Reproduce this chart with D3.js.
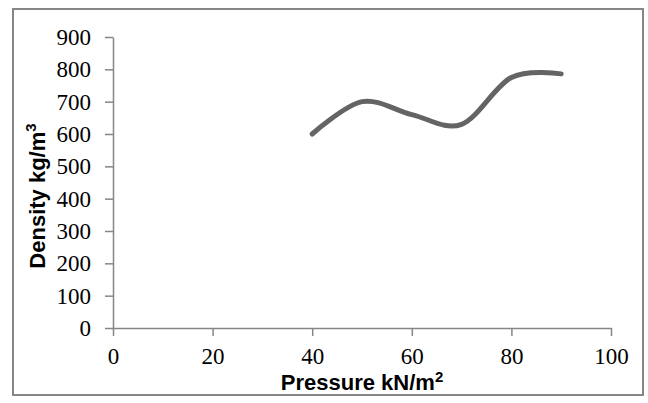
<!DOCTYPE html>
<meta charset="utf-8">
<style>
  body { margin: 0; background: #fff; }
  .tick text { font-family: "Liberation Serif", serif; font-size: 23px; fill: #000; }
  .tick line, .domain { stroke: #868686; stroke-width: 1.5px; }
  .title { font-family: "Liberation Sans", sans-serif; font-weight: bold; font-size: 22px; fill: #000; }
</style>
<svg width="648" height="403"></svg>
<script src="https://cdn.jsdelivr.net/npm/d3@7"></script>
<script>
  // data
  var pressure = [40, 50, 60, 70, 80, 90];
  var density = [600, 700, 660, 630, 775, 786];
  var xTicks = [0, 20, 40, 60, 80, 100];
  var yTicks = [0, 100, 200, 300, 400, 500, 600, 700, 800, 900];

  var svg = d3.select("svg");
  var margin = {left: 113, right: 37, top: 37, bottom: 75};
  var w = 648 - margin.left - margin.right,
    h = 403 - margin.top - margin.bottom;

  // outer chart border
  svg.append("rect")
    .attr("x", 13).attr("y", 9)
    .attr("width", 630).attr("height", 386)
    .attr("fill", "none")
    .attr("stroke", "#868686")
    .attr("stroke-width", 2);

  var g = svg.append("g").attr("transform", "translate(" + margin.left + "," + margin.top + ")");

  var x = d3.scaleLinear().domain([0, 100]).range([0, w]);
  var y = d3.scaleLinear().domain([0, 900]).range([h, 0]);

  g.append("g")
    .call(d3.axisLeft(y).tickValues(yTicks).tickSize(8).tickSizeOuter(0).tickPadding(14));

  var xAxis = g.append("g")
    .attr("transform", "translate(0," + h + ")")
    .call(d3.axisBottom(x).tickValues(xTicks).tickSize(8).tickSizeOuter(0).tickPadding(11));

  xAxis.selectAll(".tick text").attr("dy", "0.75em");

  var line = d3.line()
    .x(function(d, i) { return x(pressure[i]); })
    .y(function(d) { return y(d); })
    .curve(d3.curveCardinal.tension(0));

  g.append("path")
    .datum(density)
    .attr("d", line)
    .attr("fill", "none")
    .attr("stroke", "#646464")
    .attr("stroke-width", 5)
    .attr("stroke-linecap", "round");

  // axis titles
  var xt = svg.append("text")
    .attr("class", "title")
    .attr("x", margin.left + w / 2)
    .attr("y", 390)
    .attr("text-anchor", "middle");
  xt.append("tspan").text("Pressure kN/m");
  xt.append("tspan").text("2").attr("font-size", 15).attr("dy", -8);

  var yt = svg.append("text")
    .attr("class", "title")
    .attr("transform", "translate(45,196) rotate(-90)")
    .attr("text-anchor", "middle");
  yt.append("tspan").text("Density kg/m");
  yt.append("tspan").text("3").attr("font-size", 15).attr("dy", -9);
</script>
